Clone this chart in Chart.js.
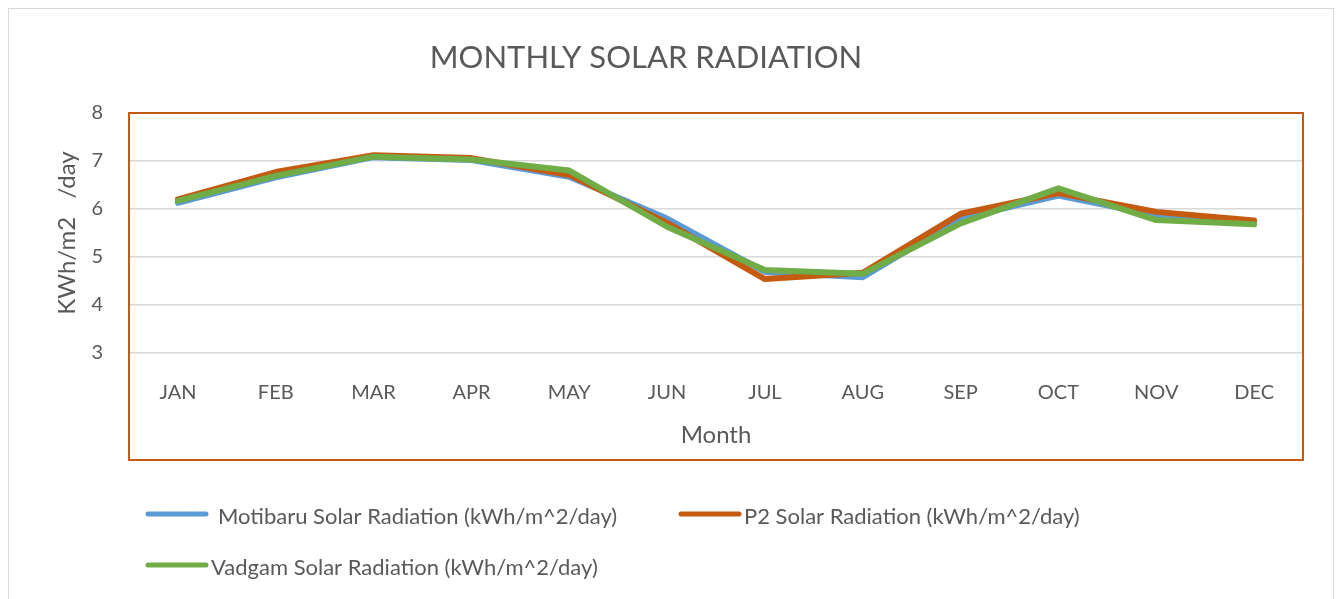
<!DOCTYPE html>
<html>
<head>
<meta charset="utf-8">
<script src="https://cdn.jsdelivr.net/npm/chart.js@4.4.0/dist/chart.umd.min.js"></script>
<style>
  html, body { margin: 0; padding: 0; background: #fff; }
  #wrap { width: 1341px; height: 599px; position: relative; }
</style>
</head>
<body>
<div id="wrap"><canvas id="solarChart" width="1341" height="599"></canvas></div>
<script>
// values
var months = ['JAN', 'FEB', 'MAR', 'APR', 'MAY', 'JUN', 'JUL', 'AUG', 'SEP', 'OCT', 'NOV', 'DEC'];
var motibaru = [6.13, 6.66, 7.08, 7.02, 6.67, 5.80, 4.69, 4.58, 5.80, 6.28, 5.87, 5.71];
var p2 = [6.20, 6.77, 7.12, 7.06, 6.71, 5.71, 4.54, 4.67, 5.90, 6.33, 5.94, 5.76];
var vadgam = [6.17, 6.69, 7.09, 7.03, 6.80, 5.63, 4.73, 4.65, 5.70, 6.43, 5.77, 5.68];
var yTicks = [3, 4, 5, 6, 7, 8];

var textColor = '#595959';
var fontName = 'Lato';

// title, outer frame, orange plot box and legend
var decorations = {
    id: 'decorations',
    beforeDraw: function (chart) {
        var ctx = chart.ctx;
        ctx.save();
        ctx.strokeStyle = '#d9d9d9';
        ctx.lineWidth = 1;
        ctx.strokeRect(8.5, 8.5, 1325, 620);
        ctx.restore();
    },
    afterDraw: function (chart) {
        var ctx = chart.ctx;
        var area = chart.chartArea;
        var xs = chart.scales.x;
        ctx.save();
        // orange box round plot area and x axis
        ctx.strokeStyle = '#C55A11';
        ctx.lineWidth = 2;
        ctx.strokeRect(area.left, area.top, area.right - area.left, xs.bottom - area.top);

        // chart title
        ctx.fillStyle = textColor;
        ctx.font = '31px ' + fontName;
        ctx.textAlign = 'center';
        ctx.textBaseline = 'middle';
        ctx.fillText('MONTHLY SOLAR RADIATION', 646, 58);

        // legend
        var spots = [
            { x1: 148, x2: 206, y: 514, tx: 218 },
            { x1: 681, x2: 739, y: 514, tx: 744 },
            { x1: 148, x2: 206, y: 565, tx: 211 }
        ];
        ctx.font = '22px ' + fontName;
        ctx.textAlign = 'left';
        chart.data.datasets.forEach(function (ds, i) {
            var s = spots[i];
            ctx.strokeStyle = ds.borderColor;
            ctx.lineWidth = 5;
            ctx.lineCap = 'round';
            ctx.beginPath();
            ctx.moveTo(s.x1, s.y);
            ctx.lineTo(s.x2, s.y);
            ctx.stroke();
            ctx.fillStyle = textColor;
            ctx.fillText(ds.label, s.tx, s.y + 3);
        });
        ctx.restore();
    }
};

var ctx = document.getElementById('solarChart').getContext('2d');
var chart = new Chart(ctx, {
    type: 'line',
    data: {
        labels: months,
        datasets: [{
            label: 'Motibaru Solar Radiation (kWh/m^2/day)',
            data: motibaru,
            borderColor: '#5B9BD5',
            order: 3
        }, {
            label: 'P2 Solar Radiation (kWh/m^2/day)',
            data: p2,
            borderColor: '#C55A11',
            order: 2
        }, {
            label: 'Vadgam Solar Radiation (kWh/m^2/day)',
            data: vadgam,
            borderColor: '#70AD47',
            order: 1
        }]
    },
    options: {
        responsive: false,
        animation: false,
        devicePixelRatio: 1,
        layout: { padding: { top: 113, left: 0, right: 38, bottom: 139 } },
        elements: {
            line: { borderWidth: 6, tension: 0, borderJoinStyle: 'round', borderCapStyle: 'round', fill: false },
            point: { radius: 0, hoverRadius: 0 }
        },
        plugins: {
            legend: { display: false },
            title: { display: false },
            tooltip: { enabled: false }
        },
        scales: {
            x: {
                offset: true,
                grid: { display: false, drawTicks: false },
                border: { display: false },
                ticks: { color: textColor, font: { family: fontName, size: 20 }, padding: 28, maxRotation: 0, autoSkip: false },
                title: { display: true, text: 'Month', color: textColor, font: { family: fontName, size: 24 }, padding: { top: 0, bottom: 10 } },
                afterFit: function (s) { s.height = 107; }
            },
            y: {
                min: 3,
                max: 8,
                afterBuildTicks: function (s) { s.ticks = yTicks.map(function (v) { return { value: v }; }); },
                grid: { color: '#d9d9d9', lineWidth: 1.5, drawTicks: false },
                border: { display: false },
                ticks: { color: textColor, font: { family: fontName, size: 20 }, padding: 26 },
                title: { display: true, text: 'KWh/m2   /day', color: textColor, font: { family: fontName, size: 24 }, padding: { top: 53, bottom: 0 } },
                afterFit: function (s) { s.width = 129; }
            }
        }
    },
    plugins: [decorations]
});
</script>
</body>
</html>
